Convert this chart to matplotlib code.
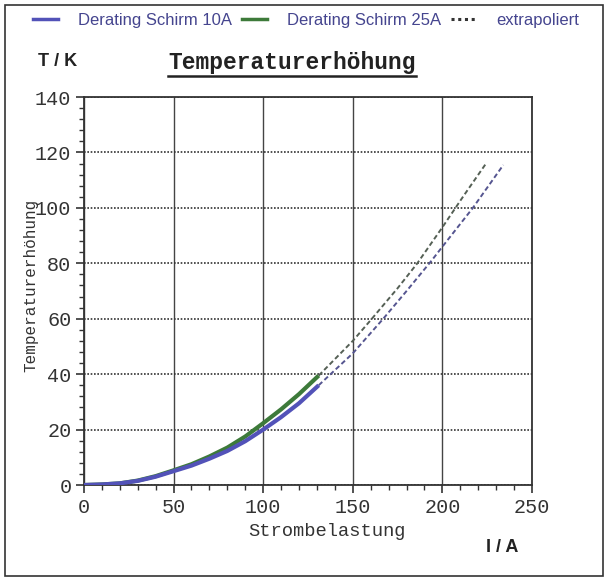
import matplotlib
matplotlib.use("Agg")
import matplotlib.pyplot as plt
from matplotlib.lines import Line2D
from matplotlib.patches import Rectangle
from matplotlib.ticker import MultipleLocator

# =========================
# DATA
# =========================
current_meas = [0, 10, 20, 30, 40, 50, 60, 70, 80, 90, 100, 110, 120, 131]
temp_10a = [0, 0.2, 0.6, 1.5, 3.0, 5.0, 7.0, 9.5, 12.3, 15.8, 20.0, 24.5, 29.5, 36.0]
temp_25a = [0, 0.2, 0.6, 1.6, 3.2, 5.3, 7.5, 10.3, 13.5, 17.5, 22.3, 27.3, 32.8, 39.5]

current_ext_10a = [131, 150, 167, 180, 194, 200, 217, 234]
temp_ext_10a = [36.0, 47.5, 60, 70, 81, 86, 100, 115.5]
current_ext_25a = [131, 150, 160, 175, 186, 200, 212, 224]
temp_ext_25a = [39.5, 52, 59.5, 71, 80, 93, 104.5, 115.7]

legend_labels = ["Derating Schirm 10A", "Derating Schirm 25A", "extrapoliert"]

BLUE = "#5252b8"
GREEN = "#3d7a3a"
mono = "Liberation Mono"
sans = "Liberation Sans"

# =========================
# FIGURE
# =========================
fig = plt.figure(figsize=(6.08, 5.77), dpi=100)
ax = fig.add_axes([0.138, 0.1594, 0.737, 0.6724])

ax.plot(current_meas, temp_10a, color=BLUE, lw=3, solid_capstyle="butt", zorder=3)
ax.plot(current_meas, temp_25a, color=GREEN, lw=3, solid_capstyle="butt", zorder=2)
ax.plot(current_ext_10a, temp_ext_10a, color="#555590", lw=1.4, ls=(0, (2.5, 1.5)), zorder=3)
ax.plot(current_ext_25a, temp_ext_25a, color="#556055", lw=1.4, ls=(0, (2.5, 1.5)), zorder=3)

ax.set_xlim(0, 250)
ax.set_ylim(0, 140)
ax.xaxis.set_major_locator(MultipleLocator(50))
ax.xaxis.set_minor_locator(MultipleLocator(10))
ax.yaxis.set_major_locator(MultipleLocator(20))
ax.yaxis.set_minor_locator(MultipleLocator(4))

ax.tick_params(which="major", direction="out", length=6, width=1.2, color="#333333",
               labelsize=14.5, pad=3)
ax.tick_params(which="minor", direction="out", length=3.5, width=1.0, color="#333333")
for lab in ax.get_xticklabels() + ax.get_yticklabels():
    lab.set_fontfamily(mono)
    lab.set_color("#333333")

ax.xaxis.grid(True, which="major", color="#444444", lw=1.0, ls="-")
ax.yaxis.grid(True, which="major", color="#333333", lw=1.2, ls=(0, (1, 1)))
ax.set_axisbelow(True)
for s in ax.spines.values():
    s.set_color("#333333")
    s.set_linewidth(1.3)

# =========================
# TEXTS
# =========================
fig.text(327 / 608, 1 - 532 / 577, "Strombelastung", family=mono, fontsize=13.5,
         ha="center", va="center", color="#333333")
fig.text(0.05, 1 - 285 / 577, "Temperaturerhöhung", family=mono, fontsize=11.5,
         rotation=90, ha="center", va="center", color="#333333")
fig.text(38 / 608, 1 - 62 / 577, "T / K", family=sans, fontweight="bold", fontsize=13,
         ha="left", va="center", color="#222222")
fig.text(486 / 608, 1 - 548 / 577, "I / A", family=sans, fontweight="bold", fontsize=13,
         ha="left", va="center", color="#222222")
title = fig.text(292 / 608, 1 - 62 / 577, "Temperaturerhöhung", family=mono,
                 fontweight="bold", fontsize=16.5, ha="center", va="center", color="#222222")

# underline of the title
fig.canvas.draw()
bb = title.get_window_extent().transformed(fig.transFigure.inverted())
fig.add_artist(Line2D([bb.x0, bb.x1], [bb.y0 - 0.004, bb.y0 - 0.004],
                      transform=fig.transFigure, color="#222222", lw=1.8))

# legend above the chart
handles = [
    Line2D([], [], color=BLUE, lw=2.5),
    Line2D([], [], color=GREEN, lw=2.5),
    Line2D([], [], color="#333333", lw=2.2, ls=(0, (1, 1.2))),
]
fig.legend(handles, legend_labels, loc="center", bbox_to_anchor=(306 / 608, 1 - 20 / 577),
           ncol=3, frameon=False, prop={"family": sans, "size": 12},
           handlelength=1.5, handletextpad=1.2, columnspacing=0.6)
for t in fig.legends[0].get_texts():
    t.set_color("#45458f")

# outer frame of the scan
fig.add_artist(Rectangle((5 / 608, 1 / 577), 598 / 608, 571 / 577, transform=fig.transFigure,
                         fill=False, edgecolor="#333333", lw=1.2))

fig.savefig("out.png", dpi=100)
